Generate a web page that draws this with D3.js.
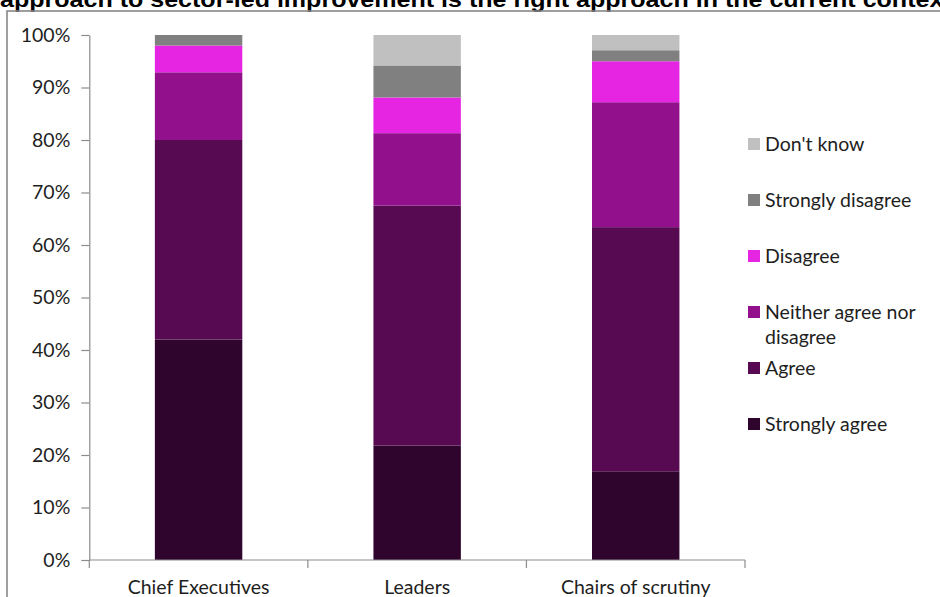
<!DOCTYPE html>
<html>
<head>
<meta charset="utf-8">
<script src="https://cdn.jsdelivr.net/npm/d3@7"></script>
<style>
  html, body { margin: 0; padding: 0; background: #fff; }
  svg { display: block; }
</style>
</head>
<body>
<svg id="chart" width="940" height="597"></svg>
<script>
// Survey responses by respondent group (percent of each group)
const categories = ["Chief Executives", "Leaders", "Chairs of scrutiny"];
const seriesNames = ["Strongly agree", "Agree", "Neither agree nor disagree", "Disagree", "Strongly disagree", "Don't know"];
const stronglyAgree    = [42.0, 21.8, 16.9];
const agree            = [38.0, 45.7, 46.5];
const neither          = [12.9, 13.8, 23.8];
const disagree         = [5.1, 6.8, 7.8];
const stronglyDisagree = [2.0, 6.1, 2.1];
const dontKnow         = [0.0, 5.8, 2.9];
const yTicks = [0, 10, 20, 30, 40, 50, 60, 70, 80, 90, 100];
const legendOrder = ["Don't know", "Strongly disagree", "Disagree", "Neither agree nor disagree", "Agree", "Strongly agree"];
const titleText = "approach to sector-led improvement is the right approach in the current context";

const seriesValues = [stronglyAgree, agree, neither, disagree, stronglyDisagree, dontKnow];
const colors = ["#2f052e", "#570a52", "#93108c", "#e625e2", "#808080", "#c0c0c0"];

const rows = categories.map((c, i) => {
  const r = { category: c };
  seriesNames.forEach((s, k) => { r[s] = seriesValues[k][i]; });
  return r;
});
const stacked = d3.stack().keys(seriesNames)(rows);
const color = d3.scaleOrdinal().domain(seriesNames).range(colors);

const svg = d3.select("#chart");
const font = "Lato, 'Open Sans', sans-serif";
const fontSize = 19.5;
const textColor = "#1e1e1e";
const axisColor = "#8c8c8c";
const titleFont = "'Liberation Sans', Arial, sans-serif";

// Title line (runs past the top and right edges of the canvas)
const title = svg.append("text")
  .attr("x", 0).attr("y", 7)
  .attr("font-family", titleFont)
  .attr("font-weight", "bold")
  .attr("font-size", 22)
  .attr("fill", "#000")
  .text(titleText);
// stretch horizontally so that "...current contex" reaches the right edge
const probe = svg.append("text").attr("font-family", titleFont)
  .attr("font-weight", "bold").attr("font-size", 22)
  .text("approach to sector-led improvement is the right approach in the current contex");
const probeW = probe.node().getComputedTextLength();
probe.remove();
title.attr("transform", `scale(${944 / probeW},1)`);

// Chart frame
svg.append("rect")
  .attr("x", 7).attr("y", 11).attr("width", 1000).attr("height", 700)
  .attr("fill", "none").attr("stroke", "#878787").attr("stroke-width", 1.6);

const y = d3.scaleLinear().domain([0, 100]).range([560, 35]);
const x = d3.scaleBand().domain(categories).range([89.3, 745])
  .paddingInner(0.6).paddingOuter(0.3);

// Y axis
const yAxis = svg.append("g")
  .attr("transform", "translate(89.3,0)")
  .call(d3.axisLeft(y).tickValues(yTicks).tickFormat(d => d + "%")
    .tickSize(8).tickSizeOuter(0).tickPadding(11));
yAxis.select(".domain").attr("stroke", axisColor).attr("stroke-width", 1.2);
yAxis.selectAll(".tick line").attr("stroke", axisColor).attr("stroke-width", 1.2);
yAxis.selectAll(".tick text")
  .attr("font-family", font).attr("font-size", fontSize).attr("fill", textColor);

// Bars
svg.append("g").selectAll("g")
  .data(stacked)
  .join("g")
  .attr("fill", d => color(d.key))
  .selectAll("rect")
  .data(d => d)
  .join("rect")
  .attr("x", d => x(d.data.category))
  .attr("width", x.bandwidth())
  .attr("y", d => y(d[1]))
  .attr("height", d => y(d[0]) - y(d[1]));

// X axis line with boundary ticks between categories
const xg = svg.append("g");
xg.append("line")
  .attr("x1", 89.3).attr("x2", 745).attr("y1", 560).attr("y2", 560)
  .attr("stroke", axisColor).attr("stroke-width", 1.2);
const bounds = d3.range(categories.length + 1).map(i => 89.3 + i * x.step());
xg.selectAll("line.b").data(bounds).join("line").attr("class", "b")
  .attr("x1", d => d).attr("x2", d => d).attr("y1", 560).attr("y2", 568)
  .attr("stroke", axisColor).attr("stroke-width", 1.2);
xg.selectAll("text").data(categories).join("text")
  .attr("x", d => x(d) + x.bandwidth() / 2)
  .attr("y", 594)
  .attr("text-anchor", "middle")
  .attr("font-family", font).attr("font-size", fontSize).attr("fill", textColor)
  .text(d => d);

// Legend
const legendY = d3.scalePoint().domain(legendOrder).range([144, 424]);
const lg = svg.append("g");
legendOrder.forEach(name => {
  const cy = legendY(name);
  lg.append("rect")
    .attr("x", 748).attr("y", cy - 6).attr("width", 12).attr("height", 12)
    .attr("fill", color(name));
  const t = lg.append("text")
    .attr("x", 765).attr("y", cy + 6.8)
    .attr("font-family", font).attr("font-size", fontSize).attr("fill", textColor);
  if (name === "Neither agree nor disagree") {
    t.append("tspan").attr("x", 765).text("Neither agree nor");
    t.append("tspan").attr("x", 765).attr("dy", 25.5).text("disagree");
  } else {
    t.text(name);
  }
});
</script>
</body>
</html>
